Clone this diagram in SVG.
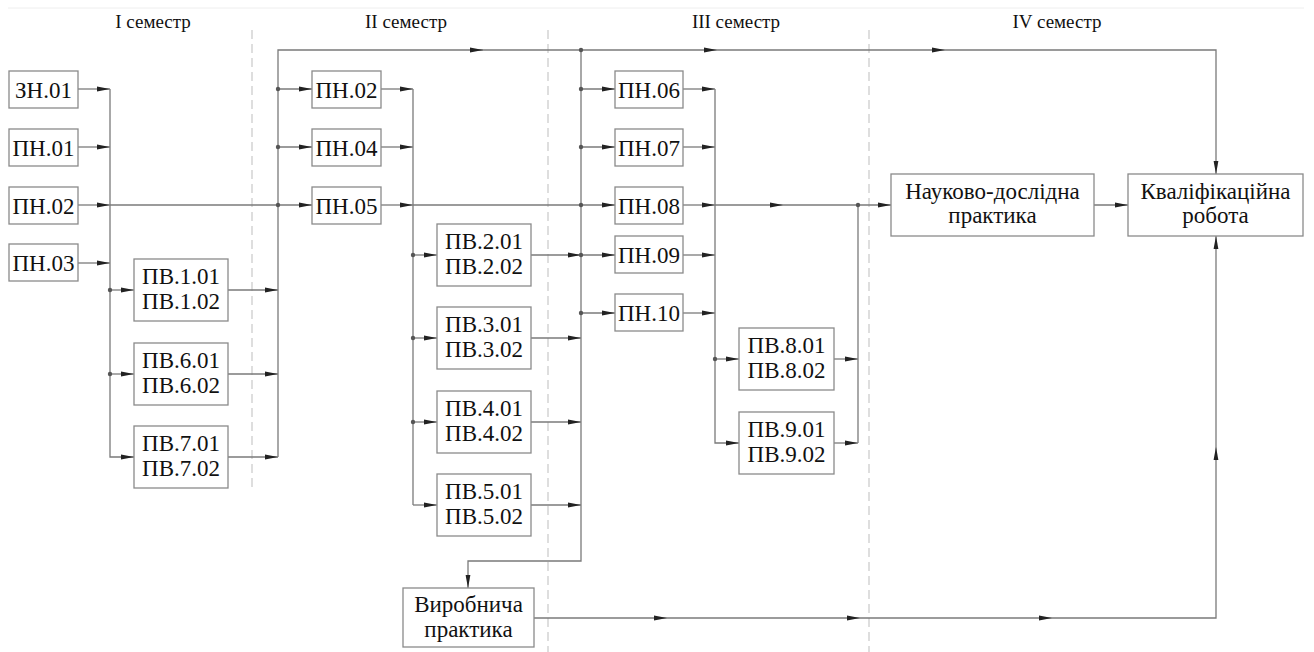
<svg xmlns="http://www.w3.org/2000/svg" width="1314" height="652" viewBox="0 0 1314 652" font-family="Liberation Serif, Times New Roman, serif">
<defs>
<style>
.bx{fill:#fff;stroke:#8a8a8a;stroke-width:1.3}
text{font-family:"Liberation Serif",serif}
.t{font-size:23px;fill:#111;text-anchor:middle}
.sem{font-size:19px;fill:#111;text-anchor:middle}
.ln{fill:none;stroke:#7a7a7a;stroke-width:1.3}
.ar{fill:none;stroke:#7a7a7a;stroke-width:1.3;marker-end:url(#ah)}
.ds{fill:none;stroke:#c8c8c8;stroke-width:1.2;stroke-dasharray:9 5}
.dt{fill:#555}
</style>
<marker id="ah" markerUnits="userSpaceOnUse" markerWidth="14" markerHeight="6" refX="13" refY="3" orient="auto">
<path d="M0,0.6 L13,3 L0,5.4 Z" fill="#222"/>
</marker>
</defs>
<rect x="0" y="0" width="1314" height="652" fill="#fff"/>
<line x1="8" y1="8" x2="1304" y2="8" stroke="#eeeeee" stroke-width="1"/>

<g id="semesters">
<text class="sem" x="153" y="28">I семестр</text>
<text class="sem" x="406" y="28">II семестр</text>
<text class="sem" x="736" y="28">III семестр</text>
<text class="sem" x="1057" y="28">IV семестр</text>
<line class="ds" x1="252" y1="30" x2="252" y2="492"/>
<line class="ds" x1="548" y1="30" x2="548" y2="652"/>
<line class="ds" x1="869" y1="30" x2="869" y2="652"/>
</g>

<g id="connectors">
<line class="ar" x1="78" y1="89" x2="110" y2="89"/>
<line class="ar" x1="78" y1="147" x2="110" y2="147"/>
<line class="ar" x1="78" y1="205" x2="110" y2="205"/>
<line class="ar" x1="78" y1="263" x2="110" y2="263"/>
<line class="ln" x1="110" y1="205" x2="278" y2="205"/>
<polyline class="ar" points="110,89 110,457 134,457"/>
<line class="ar" x1="110" y1="290" x2="134" y2="290"/>
<line class="ar" x1="110" y1="374" x2="134" y2="374"/>
<line class="ar" x1="228" y1="290" x2="278" y2="290"/>
<line class="ar" x1="228" y1="374" x2="278" y2="374"/>
<line class="ar" x1="228" y1="457" x2="278" y2="457"/>
<polyline class="ln" points="278,457 278,50 483,50"/>
<line class="ar" x1="470" y1="50" x2="483" y2="50"/>
<line class="ar" x1="483" y1="50" x2="717" y2="50"/>
<line class="ar" x1="717" y1="50" x2="945" y2="50"/>
<polyline class="ar" points="945,50 1216,50 1216,174"/>
<line class="ar" x1="278" y1="89" x2="312" y2="89"/>
<line class="ar" x1="278" y1="147" x2="312" y2="147"/>
<line class="ar" x1="278" y1="205" x2="312" y2="205"/>
<line class="ar" x1="381" y1="89" x2="413" y2="89"/>
<line class="ar" x1="381" y1="147" x2="413" y2="147"/>
<line class="ar" x1="381" y1="205" x2="413" y2="205"/>
<line class="ln" x1="413" y1="89" x2="413" y2="505"/>
<line class="ln" x1="413" y1="205" x2="581" y2="205"/>
<line class="ar" x1="413" y1="255" x2="437" y2="255"/>
<line class="ar" x1="413" y1="338" x2="437" y2="338"/>
<line class="ar" x1="413" y1="422" x2="437" y2="422"/>
<line class="ar" x1="413" y1="505" x2="437" y2="505"/>
<line class="ar" x1="531" y1="255" x2="581" y2="255"/>
<line class="ar" x1="531" y1="338" x2="581" y2="338"/>
<line class="ar" x1="531" y1="422" x2="581" y2="422"/>
<line class="ar" x1="531" y1="505" x2="581" y2="505"/>
<polyline class="ar" points="581,50 581,561 468,561 468,588"/>
<line class="ar" x1="581" y1="89" x2="615" y2="89"/>
<line class="ar" x1="581" y1="147" x2="615" y2="147"/>
<line class="ar" x1="581" y1="205" x2="615" y2="205"/>
<line class="ar" x1="581" y1="255" x2="615" y2="255"/>
<line class="ar" x1="581" y1="313" x2="615" y2="313"/>
<line class="ar" x1="683" y1="89" x2="715" y2="89"/>
<line class="ar" x1="683" y1="147" x2="715" y2="147"/>
<line class="ar" x1="683" y1="205" x2="715" y2="205"/>
<line class="ar" x1="683" y1="255" x2="715" y2="255"/>
<line class="ar" x1="683" y1="313" x2="715" y2="313"/>
<polyline class="ar" points="715,89 715,443 739,443"/>
<line class="ar" x1="715" y1="359" x2="739" y2="359"/>
<line class="ar" x1="715" y1="205" x2="783" y2="205"/>
<line class="ar" x1="783" y1="205" x2="891" y2="205"/>
<line class="ar" x1="834" y1="359" x2="858" y2="359"/>
<line class="ar" x1="834" y1="443" x2="858" y2="443"/>
<line class="ln" x1="858" y1="205" x2="858" y2="443"/>
<line class="ar" x1="1094" y1="205" x2="1128" y2="205"/>
<line class="ar" x1="534" y1="618" x2="667" y2="618"/>
<line class="ar" x1="667" y1="618" x2="860" y2="618"/>
<line class="ar" x1="860" y1="618" x2="1052" y2="618"/>
<polyline class="ar" points="1052,618 1216,618 1216,447"/>
<line class="ar" x1="1216" y1="447" x2="1216" y2="236"/>
<circle class="dt" cx="110" cy="290" r="2.2"/>
<circle class="dt" cx="110" cy="374" r="2.2"/>
<circle class="dt" cx="278" cy="89" r="2.2"/>
<circle class="dt" cx="278" cy="147" r="2.2"/>
<circle class="dt" cx="278" cy="205" r="2.2"/>
<circle class="dt" cx="413" cy="255" r="2.2"/>
<circle class="dt" cx="413" cy="338" r="2.2"/>
<circle class="dt" cx="413" cy="422" r="2.2"/>
<circle class="dt" cx="581" cy="50" r="2.2"/>
<circle class="dt" cx="581" cy="89" r="2.2"/>
<circle class="dt" cx="581" cy="147" r="2.2"/>
<circle class="dt" cx="581" cy="205" r="2.2"/>
<circle class="dt" cx="581" cy="255" r="2.2"/>
<circle class="dt" cx="581" cy="313" r="2.2"/>
<circle class="dt" cx="715" cy="359" r="2.2"/>
<circle class="dt" cx="858" cy="205" r="2.2"/>
</g>

<g id="ZN01"><rect class="bx" x="9" y="71" width="69" height="37"/><text class="t" x="43.5" y="97.5">ЗН.01</text></g>
<g id="PN01"><rect class="bx" x="9" y="129" width="69" height="37"/><text class="t" x="43.5" y="155.5">ПН.01</text></g>
<g id="PN02a"><rect class="bx" x="9" y="187" width="69" height="37"/><text class="t" x="43.5" y="213.5">ПН.02</text></g>
<g id="PN03"><rect class="bx" x="9" y="244" width="69" height="37"/><text class="t" x="43.5" y="270.5">ПН.03</text></g>

<g id="PV1"><rect class="bx" x="134" y="259" width="94" height="62"/><text class="t" x="181" y="284">ПВ.1.01</text><text class="t" x="181" y="309">ПВ.1.02</text></g>
<g id="PV6"><rect class="bx" x="134" y="343" width="94" height="62"/><text class="t" x="181" y="368">ПВ.6.01</text><text class="t" x="181" y="393">ПВ.6.02</text></g>
<g id="PV7"><rect class="bx" x="134" y="426" width="94" height="62"/><text class="t" x="181" y="451">ПВ.7.01</text><text class="t" x="181" y="476">ПВ.7.02</text></g>

<g id="PN02b"><rect class="bx" x="312" y="71" width="69" height="37"/><text class="t" x="346.5" y="97.5">ПН.02</text></g>
<g id="PN04"><rect class="bx" x="312" y="129" width="69" height="37"/><text class="t" x="346.5" y="155.5">ПН.04</text></g>
<g id="PN05"><rect class="bx" x="312" y="187" width="69" height="37"/><text class="t" x="346.5" y="213.5">ПН.05</text></g>

<g id="PV2"><rect class="bx" x="437" y="224" width="94" height="62"/><text class="t" x="484" y="249">ПВ.2.01</text><text class="t" x="484" y="274">ПВ.2.02</text></g>
<g id="PV3"><rect class="bx" x="437" y="307" width="94" height="62"/><text class="t" x="484" y="332">ПВ.3.01</text><text class="t" x="484" y="357">ПВ.3.02</text></g>
<g id="PV4"><rect class="bx" x="437" y="391" width="94" height="62"/><text class="t" x="484" y="416">ПВ.4.01</text><text class="t" x="484" y="441">ПВ.4.02</text></g>
<g id="PV5"><rect class="bx" x="437" y="474" width="94" height="62"/><text class="t" x="484" y="499">ПВ.5.01</text><text class="t" x="484" y="524">ПВ.5.02</text></g>

<g id="VP"><rect class="bx" x="403" y="588" width="131" height="59"/><text class="t" x="468.5" y="612">Виробнича</text><text class="t" x="468.5" y="637">практика</text></g>

<g id="PN06"><rect class="bx" x="615" y="71" width="68" height="37"/><text class="t" x="649" y="97.5">ПН.06</text></g>
<g id="PN07"><rect class="bx" x="615" y="129" width="68" height="37"/><text class="t" x="649" y="155.5">ПН.07</text></g>
<g id="PN08"><rect class="bx" x="615" y="187" width="68" height="37"/><text class="t" x="649" y="213.5">ПН.08</text></g>
<g id="PN09"><rect class="bx" x="615" y="236" width="68" height="37"/><text class="t" x="649" y="262.5">ПН.09</text></g>
<g id="PN10"><rect class="bx" x="615" y="294" width="68" height="37"/><text class="t" x="649" y="320.5">ПН.10</text></g>

<g id="PV8"><rect class="bx" x="739" y="328" width="95" height="62"/><text class="t" x="786.5" y="353">ПВ.8.01</text><text class="t" x="786.5" y="378">ПВ.8.02</text></g>
<g id="PV9"><rect class="bx" x="739" y="412" width="95" height="62"/><text class="t" x="786.5" y="437">ПВ.9.01</text><text class="t" x="786.5" y="462">ПВ.9.02</text></g>

<g id="NDP"><rect class="bx" x="891" y="174" width="203" height="62"/><text class="t" x="992.5" y="199">Науково-дослідна</text><text class="t" x="992.5" y="223">практика</text></g>
<g id="KR"><rect class="bx" x="1128" y="174" width="175" height="62"/><text class="t" x="1215.5" y="199">Кваліфікаційна</text><text class="t" x="1215.5" y="223">робота</text></g>
</svg>
